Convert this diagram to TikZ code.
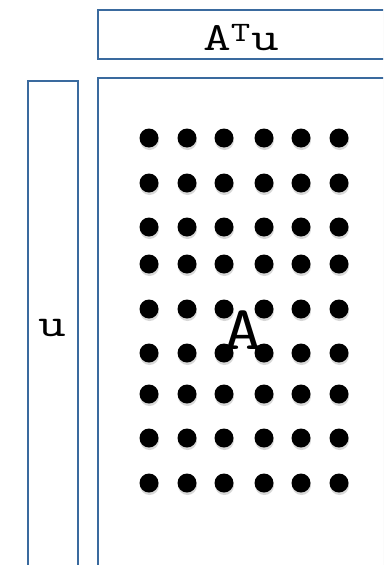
\documentclass[tikz,border=0pt]{standalone}
\usepackage{fontspec}
\usetikzlibrary{shadows}
\definecolor{boxblue}{HTML}{3A6A9E}
\tikzset{
  panel/.style={draw=boxblue, line width=1.8pt, fill=white, inner sep=0pt,
    drop shadow={opacity=0.25, shadow xshift=1pt, shadow yshift=-1.5pt}},
  dot/.style={circle, fill=black, minimum size=19pt, inner sep=0pt,
    drop shadow={opacity=0.3, shadow xshift=0.5pt, shadow yshift=-2.5pt}},
  lbl/.style={inner sep=0pt}
}
\newcommand\widetxt[2]{\scalebox{1.35}[1]{\ttfamily\fontsize{#1}{#1}\selectfont #2}}
\begin{document}
\begin{tikzpicture}[x=1pt, y=-1pt]
\useasboundingbox (0,0) rectangle (383,565);
\begin{scope}
\clip (0,0) rectangle (383,565);
\node[panel, minimum width=320pt, minimum height=49pt, anchor=north west] (top) at (97,9) {};
\node[panel, minimum width=320pt, minimum height=520pt, anchor=north west] (mat) at (97,77) {};
\node[panel, minimum width=50pt, minimum height=520pt, anchor=north west] (vec) at (27,80) {};
\end{scope}
\node[lbl] (atu) at (241,38) {\widetxt{40}{A\textsuperscript{T}u}};
\node[lbl] (u) at (52,328) {\widetxt{40}{u}};
\foreach \r/\y in {1/138,2/183,3/227,4/264,5/309,6/353,7/394,8/438,9/483}{
  \foreach \c/\x in {1/149,2/187,3/224,4/264,5/301,6/339}{
    \node[dot] (d-\r-\c) at (\x,\y) {};
  }
}
\node[lbl] (A) at (243,330) {\widetxt{62}{A}};
\end{tikzpicture}
\end{document}
